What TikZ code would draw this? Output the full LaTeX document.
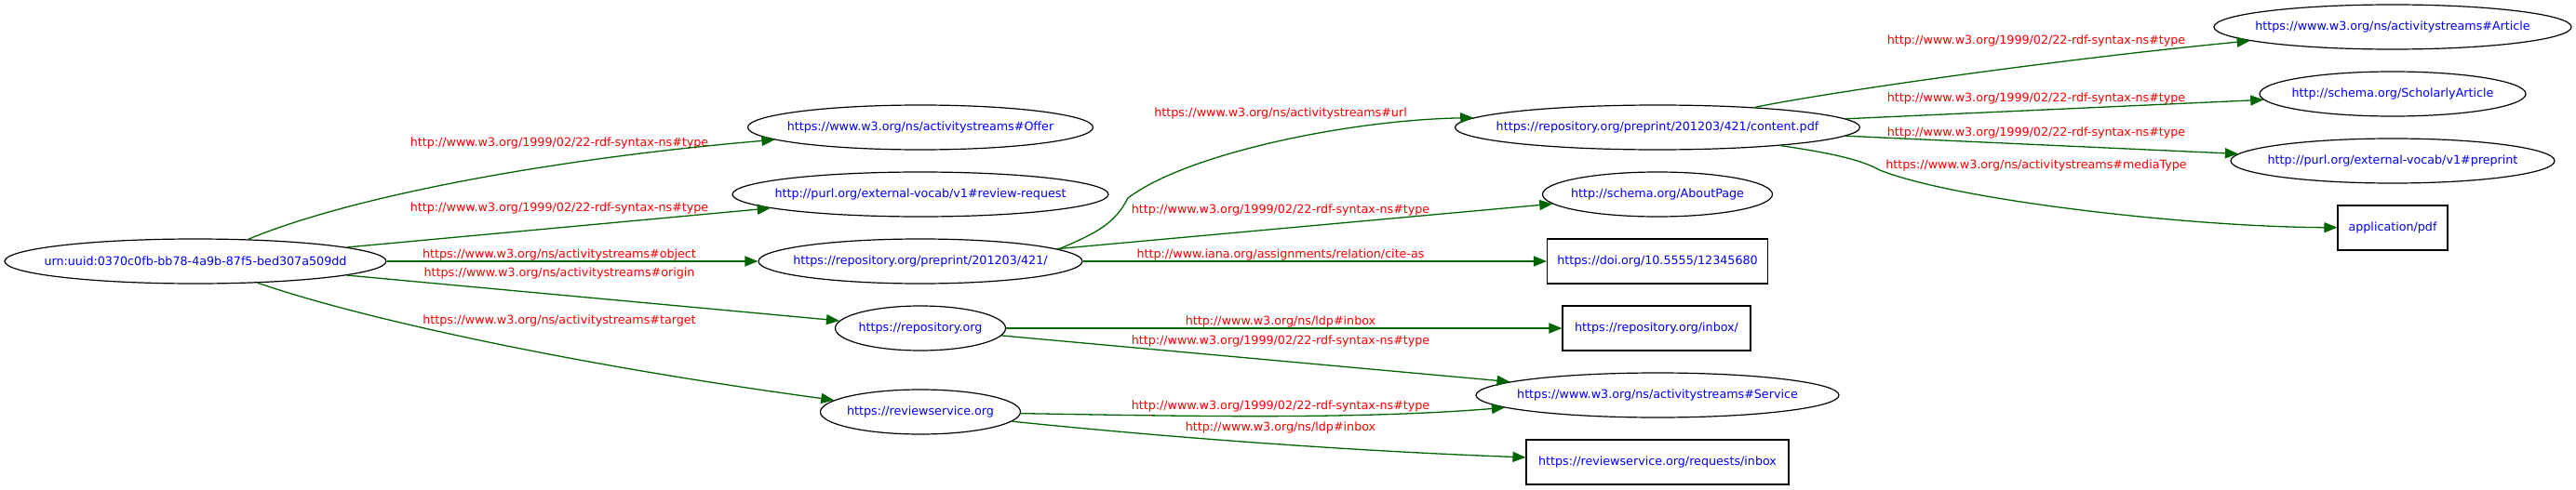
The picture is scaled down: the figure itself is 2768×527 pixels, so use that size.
\documentclass[tikz,border=0pt]{standalone}
\usepackage{fontspec}
\setmainfont{DejaVu Sans}
\usetikzlibrary{arrows.meta,shapes.geometric}

\definecolor{iriblue}{RGB}{0,0,255}
\definecolor{predred}{RGB}{255,0,0}
\definecolor{linkgreen}{RGB}{0,100,0}
\newcommand{\iri}[1]{\makebox[0pt]{#1}}

\tikzset{
  res/.style={ellipse, draw, line width=1.2pt, inner sep=0pt,
    minimum height=48pt, text=iriblue,
    font=\fontsize{12.7pt}{15pt}\selectfont},
  lit/.style={rectangle, draw, line width=1.1pt, inner sep=0pt,
    minimum height=48pt, text=iriblue,
    font=\fontsize{12.7pt}{15pt}\selectfont},
  pred/.style={anchor=base, inner sep=0pt, text=predred,
    font=\fontsize{12.7pt}{15pt}\selectfont},
  link/.style={draw=linkgreen, line width=1.3pt,
    -{Triangle[length=14pt,width=11pt,fill=linkgreen]}}
}

\begin{document}
\begin{tikzpicture}[x=1pt,y=-1pt]
  \useasboundingbox (0,0) rectangle (2768,527);

  % subjects and objects
  \node[res, minimum width=410pt] (urn) at (210,281) {\iri{urn:uuid:0370c0fb-bb78-4a9b-87f5-bed307a509dd}};
  \node[res, minimum width=371pt] (offer) at (989,137) {\iri{https://www.w3.org/ns/activitystreams\#Offer}};
  \node[res, minimum width=404pt] (reviewreq) at (989,209) {\iri{http://purl.org/external-vocab/v1\#review-request}};
  \node[res, minimum width=348pt] (preprint) at (989,281) {\iri{https://repository.org/preprint/201203/421/}};
  \node[res, minimum width=183pt] (repo) at (989,353) {\iri{https://repository.org}};
  \node[res, minimum width=215pt] (reviewsvc) at (989,443) {\iri{https://reviewservice.org}};
  \node[res, minimum width=435pt] (pdffile) at (1781,137) {\iri{https://repository.org/preprint/201203/421/content.pdf}};
  \node[res, minimum width=247pt] (aboutpage) at (1781,209) {\iri{http://schema.org/AboutPage}};
  \node[lit, minimum width=237pt] (doi) at (1781,281) {\iri{https://doi.org/10.5555/12345680}};
  \node[lit, minimum width=202pt] (repoinbox) at (1780,353) {\iri{https://repository.org/inbox/}};
  \node[res, minimum width=390pt] (service) at (1781,425) {\iri{https://www.w3.org/ns/activitystreams\#Service}};
  \node[lit, minimum width=282pt] (reqinbox) at (1781,497) {\iri{https://reviewservice.org/requests/inbox}};
  \node[res, minimum width=384pt] (article) at (2571,29) {\iri{https://www.w3.org/ns/activitystreams\#Article}};
  \node[res, minimum width=286pt] (scholarly) at (2571,101) {\iri{http://schema.org/ScholarlyArticle}};
  \node[res, minimum width=348pt] (vocabpreprint) at (2571,173) {\iri{http://purl.org/external-vocab/v1\#preprint}};
  \node[lit, minimum width=118pt] (mediatype) at (2571,245) {\iri{application/pdf}};

  % predicates
  \node[pred] (ptype1) at (601,157) {http://www.w3.org/1999/02/22-rdf-syntax-ns\#type};
  \node[pred] (ptype2) at (601,227) {http://www.w3.org/1999/02/22-rdf-syntax-ns\#type};
  \node[pred] (pobject) at (601,277) {https://www.w3.org/ns/activitystreams\#object};
  \node[pred] (porigin) at (601,297) {https://www.w3.org/ns/activitystreams\#origin};
  \node[pred] (ptarget) at (601,348) {https://www.w3.org/ns/activitystreams\#target};
  \node[pred] (purl) at (1376,125.5) {https://www.w3.org/ns/activitystreams\#url};
  \node[pred] (ptype3) at (1376,229) {http://www.w3.org/1999/02/22-rdf-syntax-ns\#type};
  \node[pred] (pcite) at (1376,277) {http://www.iana.org/assignments/relation/cite-as};
  \node[pred] (pinbox1) at (1376,349) {http://www.w3.org/ns/ldp\#inbox};
  \node[pred] (ptype4) at (1376,370) {http://www.w3.org/1999/02/22-rdf-syntax-ns\#type};
  \node[pred] (ptype5) at (1376,440) {http://www.w3.org/1999/02/22-rdf-syntax-ns\#type};
  \node[pred] (pinbox2) at (1376,463) {http://www.w3.org/ns/ldp\#inbox};
  \node[pred] (ptype6) at (2188,48) {http://www.w3.org/1999/02/22-rdf-syntax-ns\#type};
  \node[pred] (ptype7) at (2188,109) {http://www.w3.org/1999/02/22-rdf-syntax-ns\#type};
  \node[pred] (ptype8) at (2188,146) {http://www.w3.org/1999/02/22-rdf-syntax-ns\#type};
  \node[pred] (pmedia) at (2188,181) {https://www.w3.org/ns/activitystreams\#mediaType};

  % triples
  \draw[link] (urn) .. controls (380,210) and (600,170) .. (offer);
  \draw[link] (urn) -- (reviewreq);
  \draw[link] (urn) -- (preprint);
  \draw[link] (urn) -- (repo);
  \draw[link] (urn) .. controls (380,340) and (600,390) .. (reviewsvc);
  \draw[link] (preprint.5) .. controls (1180,250) and (1198,240) .. (1212,213)
    .. controls (1275,165) and (1450,129) .. (pdffile.177);
  \draw[link] (preprint) -- (aboutpage);
  \draw[link] (preprint) -- (doi);
  \draw[link] (repo) -- (repoinbox);
  \draw[link] (repo) -- (service);
  \draw[link] (reviewsvc) .. controls (1250,447) and (1450,452) .. (service);
  \draw[link] (reviewsvc) .. controls (1250,470) and (1450,485) .. (reqinbox);
  \draw[link] (pdffile) .. controls (1960,100) and (2200,65) .. (article);
  \draw[link] (pdffile) -- (scholarly);
  \draw[link] (pdffile) -- (vocabpreprint);
  \draw[link] (pdffile) .. controls (1970,165) and (2000,172) .. (2020,183)
    .. controls (2100,215) and (2350,244) .. (mediatype);
\end{tikzpicture}
\end{document}
